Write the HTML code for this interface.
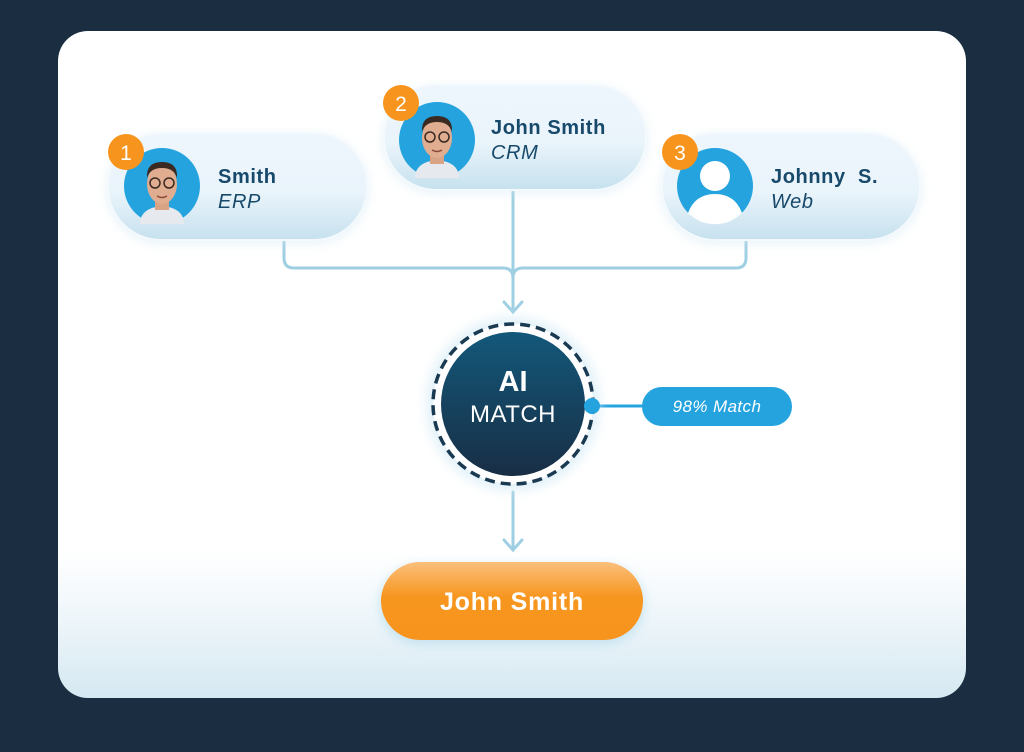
<!DOCTYPE html>
<html><head><meta charset="utf-8"><style>
html,body{margin:0;padding:0;background:#1b2d40;width:1024px;height:752px;overflow:hidden}
svg{display:block}
text{font-family:"Liberation Sans",sans-serif}
</style></head><body>
<svg width="1024" height="752" viewBox="0 0 1024 752" xmlns="http://www.w3.org/2000/svg">
<defs>
<linearGradient id="card" x1="0" y1="0" x2="0" y2="1">
<stop offset="0" stop-color="#fff"/><stop offset="0.78" stop-color="#fff"/><stop offset="0.88" stop-color="#eef6fa"/><stop offset="1" stop-color="#d5e8f1"/></linearGradient>
<linearGradient id="pill" x1="0" y1="0" x2="0" y2="1">
<stop offset="0" stop-color="#eef6fd"/><stop offset="0.55" stop-color="#eaf4fb"/><stop offset="1" stop-color="#c6e1ee"/></linearGradient>
<linearGradient id="ai" x1="0" y1="0" x2="0" y2="1">
<stop offset="0" stop-color="#13587a"/><stop offset="1" stop-color="#182e45"/></linearGradient>
<linearGradient id="or" x1="0" y1="0" x2="0" y2="1">
<stop offset="0" stop-color="#fbbf7c"/><stop offset="0.45" stop-color="#f7961f"/><stop offset="1" stop-color="#f7941d"/></linearGradient>
<filter id="sh" x="-20%" y="-30%" width="140%" height="160%"><feGaussianBlur stdDeviation="6"/></filter>
<g id="face">
<circle r="38" fill="#24a3df"/>
<path d="M-22 38 Q-22 22 0 20 Q22 22 22 38 Z" fill="#e6e9ee"/>
<rect x="-7" y="10" width="14" height="14" fill="#d9a386"/>
<ellipse cx="0" cy="-2" rx="15" ry="20" fill="#e0ad90"/>
<path d="M-15 -8 Q-16 -24 0 -24 Q16 -24 15 -8 Q12 -18 0 -18 Q-12 -18 -15 -8Z" fill="#3a2a22"/>
<circle cx="-7" cy="-3" r="5" fill="none" stroke="#3a2a22" stroke-width="1.5"/>
<circle cx="7" cy="-3" r="5" fill="none" stroke="#3a2a22" stroke-width="1.5"/>
<path d="M-5 10 Q0 13 5 10" stroke="#8a4a3a" stroke-width="1.5" fill="none"/>
</g>
</defs>
<rect x="58" y="31" width="908" height="667" rx="30" fill="url(#card)"/>

<g fill="none" stroke="#9fcfe2" stroke-width="3" stroke-linecap="round">
<path d="M284 242 V258 Q284 268 294 268 H503 Q513 268 513 278"/>
<path d="M746 242 V258 Q746 268 736 268 H523 Q513 268 513 278"/>
<path d="M513 192 V312"/>
<path d="M504 302 L513 312 L522 302"/>
<path d="M513 492 V550"/>
<path d="M504 540 L513 550 L522 540"/>
<path d="M592 406 H645" stroke="#24a3df"/>
</g>

<g>
<rect x="108" y="136" width="259" height="106" rx="53" fill="#cfe6f2" filter="url(#sh)" opacity="0.6"/>
<rect x="108" y="133" width="259" height="107" rx="53" fill="url(#pill)" stroke="#f3f9fd" stroke-width="2"/>
<rect x="384" y="88" width="262" height="104" rx="52" fill="#cfe6f2" filter="url(#sh)" opacity="0.6"/>
<rect x="384" y="85" width="262" height="105" rx="52" fill="url(#pill)" stroke="#f3f9fd" stroke-width="2"/>
<rect x="662" y="136" width="258" height="106" rx="53" fill="#cfe6f2" filter="url(#sh)" opacity="0.6"/>
<rect x="662" y="133" width="258" height="107" rx="53" fill="url(#pill)" stroke="#f3f9fd" stroke-width="2"/>
</g>
<use href="#face" x="162" y="186"/>
<use href="#face" x="437" y="140"/>
<g transform="translate(715,186)">
<circle r="38" fill="#24a3df"/>
<circle cx="0" cy="-10" r="15" fill="#fff"/>
<path d="M-27 27 Q-20 8 0 8 Q20 8 27 27 A38 38 0 0 1 -27 27Z" fill="#fff"/>
</g>
<g fill="#f7941d"><circle cx="126" cy="152" r="18"/><circle cx="401" cy="103" r="18"/><circle cx="680" cy="152" r="18"/></g>
<g fill="#fff" font-size="21" text-anchor="middle"><text x="126" y="160">1</text><text x="401" y="111">2</text><text x="680" y="160">3</text></g>

<g fill="#17496b" letter-spacing="0.6">
<text x="218" y="183" font-size="20" font-weight="bold">Smith</text>
<text x="218" y="208" font-size="20" font-style="italic">ERP</text>
<text x="491" y="134" font-size="20" font-weight="bold">John Smith</text>
<text x="491" y="159" font-size="20" font-style="italic">CRM</text>
<text x="771" y="183" font-size="20" font-weight="bold">Johnny&#160; S.</text>
<text x="771" y="208" font-size="20" font-style="italic">Web</text>
</g>

<circle cx="513" cy="404" r="86" fill="#d6ecf6" filter="url(#sh)" opacity="0.8"/>
<circle cx="513" cy="404" r="80" fill="#fff" stroke="#1a3a52" stroke-width="3.5" stroke-dasharray="10 6"/>
<circle cx="513" cy="404" r="72" fill="url(#ai)"/>
<text x="513" y="391" font-size="29" font-weight="bold" fill="#fff" text-anchor="middle">AI</text>
<text x="513" y="422" font-size="24" fill="#fff" text-anchor="middle" letter-spacing="0.5">MATCH</text>
<circle cx="592" cy="406" r="8" fill="#24a3df"/>
<rect x="642" y="387" width="150" height="39" rx="19.5" fill="#24a3df"/>
<text x="717" y="412" font-size="17" font-style="italic" fill="#fff" text-anchor="middle" letter-spacing="0.4">98% Match</text>

<rect x="381" y="567" width="262" height="76" rx="38" fill="#bfe0ef" filter="url(#sh)"/>
<rect x="381" y="562" width="262" height="78" rx="39" fill="url(#or)"/>
<text x="512" y="610" font-size="25" font-weight="bold" fill="#fff" text-anchor="middle" letter-spacing="0.8">John Smith</text>
</svg>
</body></html>
